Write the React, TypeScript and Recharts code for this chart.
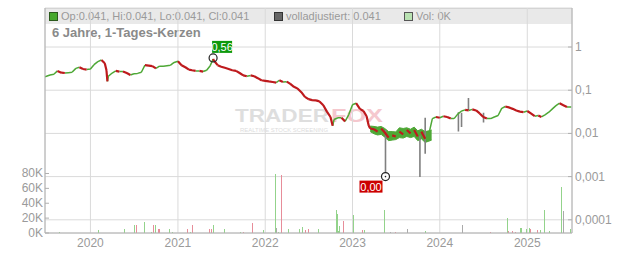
import {
  ComposedChart,
  Line,
  Area,
  Bar,
  XAxis,
  YAxis,
  CartesianGrid,
  ReferenceDot,
} from "recharts";

const FONT = '"Liberation Sans", Arial, sans-serif';
const GREEN = "#4ea836";
const RED = "#be1a1d";
const GRID = "#dadada";
const AXIS = "#b0b0b0";
const LABEL = "#9a9a9a";

// closes, roughly two per month
const priceDates = [
  "2019-06-25", "2019-07-01", "2019-07-16", "2019-08-01", "2019-08-16", "2019-09-01", "2019-09-16",
  "2019-10-01", "2019-10-16", "2019-11-01", "2019-11-16", "2019-12-01", "2019-12-16",
  "2020-01-01", "2020-01-16", "2020-02-01", "2020-02-16", "2020-03-01", "2020-03-08", "2020-03-12",
  "2020-03-16", "2020-04-01", "2020-04-16", "2020-05-01", "2020-05-16", "2020-06-01", "2020-06-16",
  "2020-07-01", "2020-07-16", "2020-08-01", "2020-08-16", "2020-09-01", "2020-09-16", "2020-10-01",
  "2020-10-16", "2020-11-01", "2020-11-16", "2020-12-01", "2020-12-16",
  "2021-01-01", "2021-01-16", "2021-02-01", "2021-02-16", "2021-03-01", "2021-03-16", "2021-04-01",
  "2021-04-16", "2021-05-01", "2021-05-16", "2021-05-28", "2021-06-01", "2021-06-16", "2021-07-01",
  "2021-07-16", "2021-08-01", "2021-08-16", "2021-09-01", "2021-09-16", "2021-10-01", "2021-10-16",
  "2021-11-01", "2021-11-16", "2021-12-01", "2021-12-16",
  "2022-01-01", "2022-01-16", "2022-02-01", "2022-02-16", "2022-03-01", "2022-03-16", "2022-04-01",
  "2022-04-16", "2022-05-01", "2022-05-16", "2022-06-01", "2022-06-16", "2022-07-01", "2022-07-16",
  "2022-08-01", "2022-08-16", "2022-09-01", "2022-09-16", "2022-10-01", "2022-10-10", "2022-10-16",
  "2022-11-01", "2022-11-16", "2022-12-01", "2022-12-16",
  "2023-01-01", "2023-01-16", "2023-02-01", "2023-02-16", "2023-03-01", "2023-03-10", "2023-03-16",
  "2023-04-01", "2023-04-16", "2023-05-01", "2023-05-16", "2023-06-01", "2023-06-16", "2023-07-01",
  "2023-07-16", "2023-08-01", "2023-08-16", "2023-09-01", "2023-09-16", "2023-10-01", "2023-10-16",
  "2023-11-01", "2023-11-16", "2023-12-01", "2023-12-16",
  "2024-01-01", "2024-01-16", "2024-02-01", "2024-02-16", "2024-03-01", "2024-03-16", "2024-04-01",
  "2024-04-16", "2024-05-01", "2024-05-16", "2024-06-01", "2024-06-16", "2024-07-01", "2024-07-16",
  "2024-08-01", "2024-08-16", "2024-09-01", "2024-09-16", "2024-10-01", "2024-10-16", "2024-11-01",
  "2024-11-16", "2024-12-01", "2024-12-16",
  "2025-01-01", "2025-01-16", "2025-02-01", "2025-02-16", "2025-03-01", "2025-03-16", "2025-04-01",
  "2025-04-16", "2025-05-01", "2025-05-16", "2025-06-01", "2025-06-16", "2025-07-04",
];
const closes = [
  0.205, 0.21, 0.225, 0.235, 0.28, 0.255, 0.25,
  0.255, 0.26, 0.32, 0.34, 0.31, 0.3,
  0.31, 0.39, 0.46, 0.5, 0.42, 0.29, 0.16,
  0.21, 0.25, 0.28, 0.27, 0.27, 0.25, 0.225,
  0.24, 0.245, 0.26, 0.38, 0.37, 0.36, 0.32,
  0.36, 0.36, 0.37, 0.38, 0.44,
  0.47, 0.38, 0.34, 0.3, 0.29, 0.28, 0.28,
  0.27, 0.29, 0.37, 0.53, 0.48, 0.38, 0.35,
  0.33, 0.31, 0.29, 0.28, 0.25, 0.22, 0.21,
  0.22, 0.21, 0.19, 0.17,
  0.165, 0.16, 0.155, 0.15, 0.17, 0.155, 0.158,
  0.14, 0.12, 0.11, 0.09, 0.07, 0.062, 0.059,
  0.058, 0.055, 0.045, 0.032, 0.024, 0.015, 0.021,
  0.023, 0.023, 0.019, 0.027,
  0.046, 0.05, 0.037, 0.033, 0.025, 0.015, 0.013,
  0.0125, 0.011, 0.013, 0.0105, 0.008, 0.009, 0.0085,
  0.011, 0.0095, 0.012, 0.01, 0.012, 0.0085, 0.011,
  0.0075, 0.0095, 0.022, 0.024,
  0.023, 0.025, 0.024, 0.022, 0.022, 0.028, 0.033,
  0.035, 0.034, 0.036, 0.034, 0.029, 0.024, 0.022,
  0.022, 0.024, 0.026, 0.038, 0.042, 0.04, 0.037,
  0.034, 0.032, 0.031,
  0.033, 0.029, 0.025, 0.026, 0.024, 0.027, 0.031,
  0.037, 0.044, 0.05, 0.045, 0.041, 0.041,
];

// dense candle bodies during 2023
const bandDates = [
  "2023-03-16", "2023-04-01", "2023-04-16", "2023-05-01", "2023-05-16", "2023-06-01",
  "2023-06-16", "2023-07-01", "2023-07-16", "2023-08-01", "2023-08-16", "2023-09-01",
  "2023-09-16", "2023-10-01", "2023-10-16", "2023-11-01", "2023-11-16", "2023-11-28",
];
const bandLows = [
  0.011, 0.0098, 0.0092, 0.0095, 0.0082, 0.0068, 0.007, 0.0072, 0.008, 0.0078, 0.0085, 0.008,
  0.0085, 0.0068, 0.0075, 0.0062, 0.0066, 0.007,
];
const bandHighs = [
  0.0148, 0.0145, 0.014, 0.0145, 0.013, 0.011, 0.011, 0.0108, 0.0135, 0.013, 0.0135, 0.0125,
  0.014, 0.0115, 0.0125, 0.011, 0.0115, 0.012,
];

// volladjustiert wicks that stick out of the candles
const wickDates = ["2023-05-19", "2023-10-10", "2023-11-01", "2024-03-19", "2024-04-01", "2024-04-30", "2024-07-02"];
const wickFrom = [0.012, 0.009, 0.023, 0.031, 0.03, 0.035, 0.03];
const wickTo = [0.001, 0.00098, 0.0034, 0.011, 0.014, 0.066, 0.018];

// volume, in shares
const volDates = [
  "2019-08-22", "2020-02-02", "2020-05-21", "2020-07-02", "2020-07-10", "2020-08-13", "2020-09-11",
  "2020-09-18", "2020-09-28", "2020-10-09", "2020-10-14", "2020-11-25", "2020-12-08", "2021-02-08",
  "2021-02-22", "2021-03-02", "2021-05-12", "2021-05-20", "2021-05-28", "2021-07-13", "2021-09-17",
  "2021-10-01", "2021-11-08", "2021-12-23", "2022-02-11", "2022-02-17", "2022-02-24", "2022-03-08",
  "2022-04-07", "2022-05-23", "2022-06-03", "2022-06-16", "2022-06-29", "2022-08-10", "2022-10-24",
  "2022-10-28", "2022-11-03", "2022-11-07", "2022-11-22", "2023-01-02", "2023-02-09", "2023-02-17",
  "2023-05-12", "2023-06-06", "2023-06-27", "2023-08-16", "2023-10-31", "2024-04-04", "2024-07-30",
  "2024-10-09", "2024-10-14", "2024-10-30", "2024-11-11", "2024-12-02", "2024-12-06", "2024-12-27",
  "2025-01-09", "2025-01-13", "2025-02-11", "2025-02-24", "2025-03-14", "2025-04-02", "2025-05-23",
  "2025-05-29", "2025-06-27",
];
const volValues = [
  1500, 4000, 5500, 11000, 11000, 15000, 2000,
  11000, 11000, 5500, 5500, 5500, 2000, 5500,
  1500, 11000, 5000, 6000, 11000, 5500, 1500,
  1500, 13500, 3500, 79000, 7000, 2000, 78000,
  5500, 5500, 8000, 4000, 5500, 5500, 31000,
  25000, 3000, 10000, 16000, 24000, 4000, 4000,
  31000, 2000, 1500, 5500, 2500, 11000, 1500,
  20000, 3000, 3000, 2000, 7000, 7000, 5000,
  7000, 6000, 3500, 3500, 31000, 3000, 62000,
  30000, 5000,
];
const volSide = [
  "up", "up", "up", "up", "down", "up", "up",
  "down", "up", "down", "down", "up", "up", "down",
  "up", "down", "down", "down", "up", "up", "up",
  "down", "down", "up", "up", "flat", "up", "down",
  "up", "up", "up", "down", "down", "up", "up",
  "up", "up", "up", "down", "up", "down", "up",
  "up", "flat", "down", "flat", "up", "flat", "down",
  "up", "down", "down", "down", "up", "up", "up",
  "up", "down", "down", "up", "up", "up", "up",
  "flat", "up",
];

const yearTicks = ["2020-01-01", "2021-01-01", "2022-01-01", "2023-01-01", "2024-01-01", "2025-01-01"];
const yearLabels = ["2020", "2021", "2022", "2023", "2024", "2025"];
const priceTicks = [0.0001, 0.001, 0.01, 0.1, 1];
const priceTickLabels = ["0,0001", "0,001", "0,01", "0,1", "1"];
const volTicks = [0, 20000, 40000, 60000, 80000];
const volTickLabels = ["0K", "20K", "40K", "60K", "80K"];

const ts = (d: string) => Date.parse(d + "T00:00:00Z");
const yearTs = yearTicks.map(ts);

const closePts = priceDates.map((d, i) => ({ t: ts(d), v: closes[i] }));
const upData: { t: number; v: number | null }[] = [];
const downData: { t: number; v: number | null }[] = [];
for (let i = 1; i < closePts.length; i++) {
  const a = closePts[i - 1];
  const b = closePts[i];
  const target = b.v >= a.v ? upData : downData;
  target.push({ t: a.t, v: a.v }, { t: b.t, v: b.v }, { t: b.t, v: null });
}

const bandData = bandDates.map((d, i) => ({ t: ts(d), band: [bandLows[i], bandHighs[i]] }));

const wickData: { t: number; v: number | null }[] = [];
wickDates.forEach((d, i) => {
  wickData.push({ t: ts(d), v: wickFrom[i] }, { t: ts(d), v: wickTo[i] }, { t: ts(d), v: null });
});

const volData = volDates.map((d, i) => ({ t: ts(d), vol: volValues[i], side: volSide[i] }));
const volColor: Record<string, string> = { up: "#93d38b", down: "#e78d99", flat: "#aaaaaa" };

// 1px crisp volume bar
const VolBar = (p: any) => {
  if (!p.height) return null;
  const side = (p.payload && p.payload.side) || p.side || "flat";
  return (
    <rect
      x={Math.round(p.x + p.width / 2) - 0.5}
      y={p.y}
      width={1}
      height={p.height}
      fill={volColor[side]}
      shapeRendering="crispEdges"
    />
  );
};

const PriceTick = (p: any) => {
  const i = priceTicks.indexOf(p.payload.value);
  return (
    <g>
      <line x1={p.x - 4} x2={p.x} y1={p.y} y2={p.y} stroke={AXIS} />
      <text x={p.x + 3} y={p.y} dy={4} fill={LABEL} fontSize={12} fontFamily={FONT}>
        {priceTickLabels[i]}
      </text>
    </g>
  );
};

const VolTick = (p: any) => {
  const i = volTicks.indexOf(p.payload.value);
  return (
    <g>
      <line x1={p.x} x2={p.x + 4} y1={p.y} y2={p.y} stroke={AXIS} />
      <text x={p.x - 2} y={p.y} dy={4} textAnchor="end" fill={LABEL} fontSize={12} fontFamily={FONT}>
        {volTickLabels[i]}
      </text>
    </g>
  );
};

const HighMarker = (p: any) => (
  <g>
    <rect x={p.cx - 1} y={p.cy - 17} width={20} height={12} fill="#0d990d" />
    <text x={p.cx + 9} y={p.cy - 7} textAnchor="middle" fill="#fff" fontSize={11} fontFamily={FONT}>
      0,56
    </text>
    <circle cx={p.cx} cy={p.cy} r={4} fill="none" stroke="#222" strokeWidth={1.2} />
  </g>
);

const LowMarker = (p: any) => (
  <g>
    <rect x={p.cx - 26} y={p.cy + 4} width={23} height={12} fill="#cc0000" />
    <text x={p.cx - 14.5} y={p.cy + 14} textAnchor="middle" fill="#fff" fontSize={11} fontFamily={FONT}>
      0,00
    </text>
    <circle cx={p.cx} cy={p.cy} r={4} fill="#fff" stroke="#222" strokeWidth={1.2} />
    <circle cx={p.cx} cy={p.cy} r={0.8} fill="#222" />
  </g>
);

const Swatch = ({ color, border }: { color: string; border: string }) => (
  <span
    style={{
      display: "inline-block",
      width: 7,
      height: 7,
      background: color,
      border: `1px solid ${border}`,
      marginRight: 3,
      verticalAlign: "-1px",
    }}
  />
);

export default function App() {
  return (
    <div style={{ position: "absolute", left: 0, top: 0, width: 632, height: 253, fontFamily: FONT, background: "#fff" }}>
      <div
        style={{
          position: "absolute",
          left: 45,
          top: 8,
          width: 527,
          height: 15,
          background: "#e9e9e9",
          borderTop: "1px solid #cfcfcf",
          fontSize: 11,
          color: "#9a9a9a",
          lineHeight: "14px",
          whiteSpace: "nowrap",
        }}
      >
        <span style={{ position: "absolute", left: 4 }}>
          <Swatch color="#46a82c" border="#2b5a1c" />
          Op:0.041, Hi:0.041, Lo:0.041, Cl:0.041
        </span>
        <span style={{ position: "absolute", left: 229 }}>
          <Swatch color="#666" border="#333" />
          volladjustiert: 0.041
        </span>
        <span style={{ position: "absolute", left: 359 }}>
          <Swatch color="#b9e2b2" border="#555" />
          Vol: 0K
        </span>
      </div>
      <div
        style={{
          position: "absolute",
          left: 52,
          top: 25,
          fontSize: 13,
          fontWeight: "bold",
          color: "#8a8a8a",
          whiteSpace: "nowrap",
        }}
      >
        6 Jahre, 1-Tages-Kerzen
      </div>
      <svg width={632} height={253} style={{ position: "absolute", left: 0, top: 0 }}>
        <text x={235} y={122} fontSize={18} fontWeight="bold" fill="#dedede" textLength={94} lengthAdjust="spacingAndGlyphs">
          TRADER
        </text>
        <text x={331} y={122} fontSize={18} fontWeight="bold" fill="#f5c8ce" textLength={52} lengthAdjust="spacingAndGlyphs">
          FOX
        </text>
        <text x={240} y={132} fontSize={5} fill="#dcdcdc" textLength={88} lengthAdjust="spacingAndGlyphs">
          REALTIME STOCK SCREENING
        </text>
      </svg>
      <div style={{ position: "absolute", left: 0, top: 0 }}>
        <ComposedChart width={632} height={253} data={volData} margin={{ top: 8, right: 0, bottom: 0, left: 0 }}>
          <CartesianGrid yAxisId="p" stroke={GRID} />
          <XAxis
            dataKey="t"
            type="number"
            domain={[ts("2019-06-25"), ts("2025-07-07")]}
            allowDataOverflow
            ticks={yearTs}
            interval={0}
            tickFormatter={(v) => yearLabels[yearTs.indexOf(v)]}
            height={20}
            axisLine={{ stroke: AXIS }}
            tickLine={false}
            tickSize={0}
            tickMargin={5}
            tick={{ fill: LABEL, fontSize: 12, fontFamily: FONT }}
          />
          <YAxis
            yAxisId="v"
            orientation="left"
            width={45}
            domain={[0, 302500]}
            allowDataOverflow
            ticks={volTicks}
            interval={0}
            tick={<VolTick />}
            tickLine={false}
            tickSize={0}
            tickMargin={0}
            axisLine={{ stroke: AXIS }}
          />
          <YAxis
            yAxisId="p"
            orientation="right"
            width={60}
            scale="log"
            domain={[4.95e-5, 8]}
            allowDataOverflow
            ticks={priceTicks}
            interval={0}
            tick={<PriceTick />}
            tickLine={false}
            tickSize={0}
            tickMargin={0}
            axisLine={{ stroke: AXIS }}
          />
          <Bar yAxisId="v" dataKey="vol" barSize={1} shape={VolBar} isAnimationActive={false} />
          <Line
            yAxisId="p"
            data={wickData}
            dataKey="v"
            stroke="#808080"
            strokeWidth={1.6}
            dot={false}
            connectNulls={false}
            isAnimationActive={false}
          />
          <Line
            yAxisId="p"
            data={upData}
            dataKey="v"
            stroke={GREEN}
            strokeWidth={1.5}
            dot={false}
            connectNulls={false}
            isAnimationActive={false}
          />
          <Line
            yAxisId="p"
            data={downData}
            dataKey="v"
            stroke={RED}
            strokeWidth={2.2}
            dot={false}
            connectNulls={false}
            isAnimationActive={false}
          />
          <Area
            yAxisId="p"
            data={bandData}
            dataKey="band"
            stroke={GREEN}
            strokeWidth={1}
            fill={GREEN}
            fillOpacity={1}
            type="linear"
            isAnimationActive={false}
          />
          <ReferenceDot yAxisId="p" x={ts("2021-05-28")} y={0.56} r={4} shape={HighMarker} />
          <ReferenceDot yAxisId="p" x={ts("2023-05-19")} y={0.001} r={4} shape={LowMarker} />
        </ComposedChart>
      </div>
    </div>
  );
}
